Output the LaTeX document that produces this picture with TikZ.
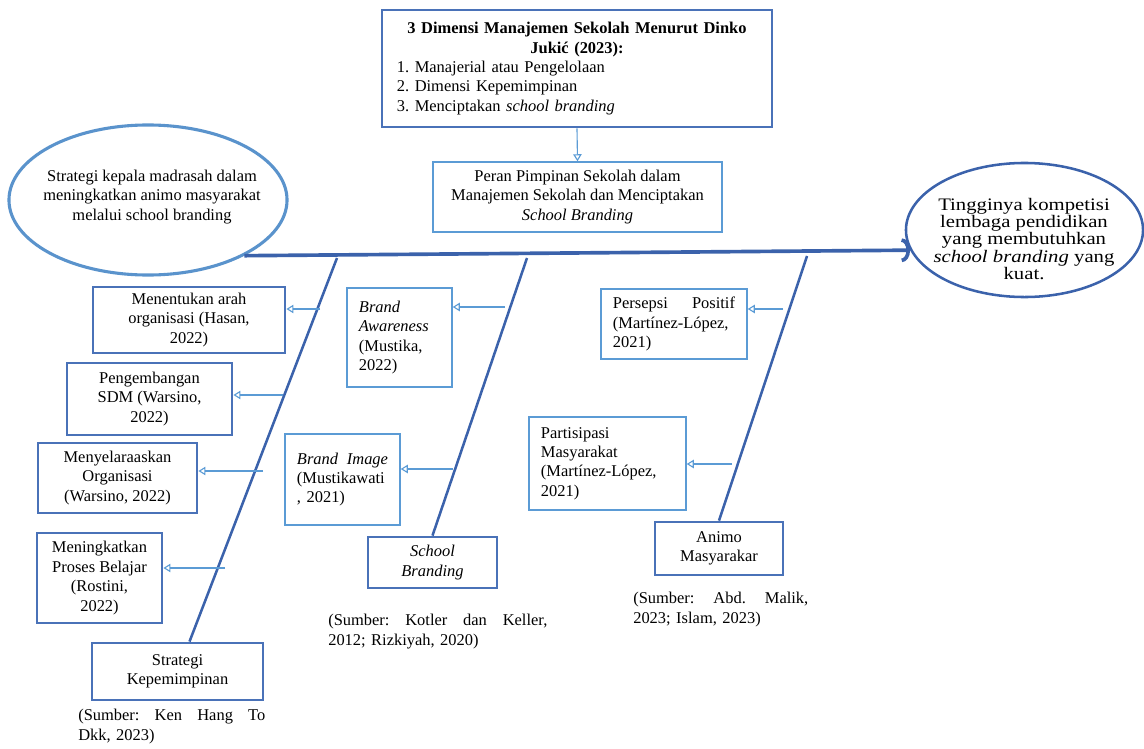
\documentclass[tikz,border=0pt]{standalone}
\usepackage{fontspec}
\setmainfont{Liberation Serif}
\newfontfamily\widefont[FakeStretch=1.18]{Liberation Serif}
\usetikzlibrary{arrows.meta,shapes.geometric}
\definecolor{spineblue}{HTML}{3B62AB}
\definecolor{boxblue}{HTML}{4A72B8}
\definecolor{paleblue}{HTML}{5B9BD5}
\definecolor{ellblue}{HTML}{5A93CC}
\frenchspacing
\begin{document}
\begin{tikzpicture}[
x=0.025cm,
y=-0.025cm,
font=\fontsize{11.7}{13.8}\selectfont,
thickbox/.style={
draw=boxblue,
line width=2pt,
align=center,
inner sep=2pt,
},
thinbox/.style={
draw=paleblue,
line width=1pt,
align=left,
inner xsep=0.3cm,
inner ysep=2pt,
},
bone/.style={
draw=spineblue,
line width=1.8pt,
},
sub/.style={
draw=paleblue,
line width=0.8pt,
-{Triangle[open,length=5pt,width=6pt]},
},
src/.style={
anchor=north west,
inner sep=0pt,
align=left,
},
]
\useasboundingbox (0,0) rectangle (1144,749);

\node[thickbox, align=left, text width=9cm, minimum width=9.75cm, minimum height=2.925cm] at (577,68.5) (dim) {{\centering\bfseries 3 Dimensi Manajemen Sekolah Menurut Dinko\\Jukić (2023):\par}1. Manajerial atau Pengelolaan\\2. Dimensi Kepemimpinan\\3. Menciptakan \textit{school branding}};
\node[thinbox, align=center, inner xsep=2pt, minimum width=7.225cm, minimum height=1.75cm] at (577.5,197) (peran) {Peran Pimpinan Sekolah dalam\\Manajemen Sekolah dan Menciptakan\\\textit{School Branding}};

\node[ellipse, draw=ellblue, line width=2.2pt, minimum width=6.95cm, minimum height=3.75cm] at (148,200) (le) {};
\node[align=center] at (152,197) (letxt) {Strategi kepala madrasah dalam\\meningkatkan animo masyarakat\\melalui school branding};
\node[ellipse, draw=spineblue, line width=1.8pt, minimum width=5.925cm, minimum height=3.35cm] at (1024.5,230) (re) {};
\node[align=center, font=\widefont\fontsize{12.5}{12.4}\selectfont] at (1024,239) (retxt) {Tingginya kompetisi\\lembaga pendidikan\\yang membutuhkan\\\textit{school branding} yang\\kuat.};

\node[thickbox, minimum width=4.8cm, minimum height=1.65cm] at (189,320) (m1) {Menentukan arah\\organisasi (Hasan,\\2022)};
\node[thickbox, minimum width=4.125cm, minimum height=1.8cm] at (149.5,399) (m2) {Pengembangan\\SDM (Warsino,\\2022)};
\node[thickbox, minimum width=3.975cm, minimum height=1.75cm] at (117.5,478) (m3) {Menyelaraaskan\\Organisasi\\(Warsino, 2022)};
\node[thickbox, minimum width=3.125cm, minimum height=2.25cm] at (99.5,578) (m4) {Meningkatkan\\Proses Belajar\\(Rostini,\\2022)};
\node[thickbox, minimum width=4.275cm, minimum height=1.425cm] at (177.5,671.5) (sk) {Strategi\\Kepemimpinan};

\node[thinbox, text width=2.025cm, minimum height=2.475cm] at (399.5,337.5) (ba) {\textit{Brand}\\\textit{Awareness}\\(Mustika,\\2022)};
\node[thinbox, text width=2.275cm, minimum height=2.275cm] at (342.5,479.5) (bi) {\textit{Brand}\hfill\textit{Image}\\(Mustikawati\\, 2021)};
\node[thickbox, minimum width=3.225cm, minimum height=1.275cm] at (432.5,562.5) (sb) {\textit{School}\\\textit{Branding}};

\node[thinbox, text width=3.05cm, minimum height=1.75cm] at (674,324) (pp) {Persepsi\hfill Positif\\(Martínez-López,\\2021)};
\node[thinbox, text width=3.325cm, minimum height=2.325cm] at (607.5,463.5) (pm) {Partisipasi\\Masyarakat\\(Martínez-López,\\2021)};
\node[thickbox, minimum width=3.2cm, minimum height=1.325cm] at (719,548.5) (am) {Animo\\Masyarakar};

\node[src, text width=4.675cm] at (78,709) (src1) {(Sumber:\hfill Ken\hfill Hang\hfill To\\Dkk, 2023)};
\node[src, text width=5.475cm] at (328,614) (src2) {(Sumber:\hfill Kotler\hfill dan\hfill Keller,\\2012; Rizkiyah, 2020)};
\node[src, text width=4.375cm] at (633,592) (src3) {(Sumber:\hfill Abd.\hfill Malik,\\2023; Islam, 2023)};

\draw[sub] (dim.south) -- (peran.north);
\draw[spineblue, line width=2.6pt, -{Arc Barb[length=6pt,width=17pt]}] (le.-30) -- (re.190);

\coordinate (t1) at (337,258);
\coordinate (t2) at (527,258);
\coordinate (t3) at (807,256);
\draw[bone] (t1) -- ([xshift=0.3cm]sk.north);
\draw[bone] (t2) -- (sb.north);
\draw[bone] (t3) -- (am.north);

\coordinate (a1) at (320,309);
\coordinate (a2) at (283,395);
\coordinate (a3) at (263,471);
\coordinate (a4) at (225,568);
\coordinate (a5) at (505,307);
\coordinate (a6) at (453,469);
\coordinate (a7) at (783,309);
\coordinate (a8) at (732,464);
\draw[sub] (a1) -- (a1 -| m1.east);
\draw[sub] (a2) -- (a2 -| m2.east);
\draw[sub] (a3) -- (a3 -| m3.east);
\draw[sub] (a4) -- (a4 -| m4.east);
\draw[sub] (a5) -- (a5 -| ba.east);
\draw[sub] (a6) -- (a6 -| bi.east);
\draw[sub] (a7) -- (a7 -| pp.east);
\draw[sub] (a8) -- (a8 -| pm.east);

\end{tikzpicture}
\end{document}
